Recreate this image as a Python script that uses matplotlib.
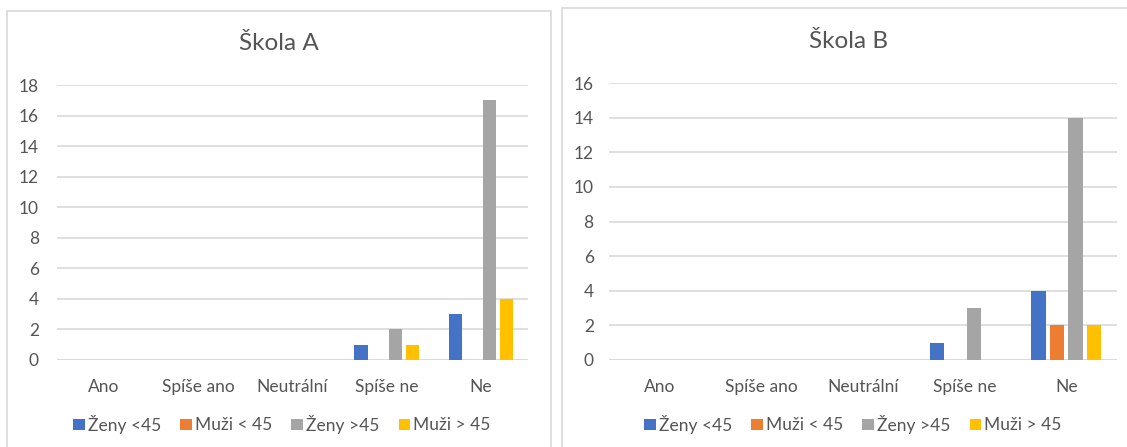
import matplotlib
matplotlib.use("Agg")
import matplotlib.pyplot as plt
from matplotlib.patches import Rectangle, Patch
import numpy as np

plt.rcParams['font.family'] = ['Lato', 'DejaVu Sans']

categories = ["Ano", "Spíše ano", "Neutrální", "Spíše ne", "Ne"]
series_names = ["Ženy <45", "Muži < 45", "Ženy >45", "Muži > 45"]
colors = ["#4472C4", "#ED7D31", "#A5A5A5", "#FFC000"]

# Škola A
a_zeny_pod45 = [0, 0, 0, 1, 3]
a_muzi_pod45 = [0, 0, 0, 0, 0]
a_zeny_nad45 = [0, 0, 0, 2, 17]
a_muzi_nad45 = [0, 0, 0, 1, 4]

# Škola B
b_zeny_pod45 = [0, 0, 0, 1, 4]
b_muzi_pod45 = [0, 0, 0, 0, 2]
b_zeny_nad45 = [0, 0, 0, 3, 14]
b_muzi_nad45 = [0, 0, 0, 0, 2]

W, H = 1127, 447
TEXT = "#555555"
GRID = "#D9D9D9"

fig = plt.figure(figsize=(W / 100, H / 100), dpi=100)
fig.patch.set_facecolor("white")


def fx(px):
    return px / W


def fy(py):
    return 1 - py / H


def draw_chart(rect, title, title_xy, legend_xy, series, ymax, tickpad):
    ax = fig.add_axes(rect, zorder=2)
    x = np.arange(len(categories))
    slot, bw = 0.182, 0.14
    for j, (vals, c) in enumerate(zip(series, colors)):
        ax.bar(x + (j - 1.5) * slot, vals, width=bw, color=c, zorder=3)
    ax.set_xlim(-0.5, len(categories) - 0.5)
    ax.set_ylim(0, ymax)
    ax.set_yticks(np.arange(0, ymax + 1, 2))
    ax.yaxis.grid(True, color=GRID, linewidth=1.2, zorder=0)
    ax.set_axisbelow(True)
    for s in ax.spines.values():
        s.set_visible(False)
    ax.axhline(0, color=GRID, linewidth=1.2, zorder=1)
    ax.set_xticks(x)
    ax.set_xticklabels(categories)
    ax.tick_params(axis="both", length=0, labelsize=12.5, labelcolor=TEXT)
    ax.tick_params(axis="y", pad=tickpad)
    ax.tick_params(axis="x", pad=13.5)
    ax.set_facecolor("none")
    fig.text(title_xy[0], title_xy[1], title, ha="center", va="center",
             fontsize=17.5, color=TEXT, zorder=3)
    handles = [Patch(facecolor=c, edgecolor="none") for c in colors]
    leg = fig.legend(handles, series_names, loc="center", bbox_to_anchor=legend_xy,
                     ncol=4, frameon=False, fontsize=12.5, labelcolor=TEXT,
                     handlelength=0.65, handleheight=0.65, handletextpad=0.2,
                     columnspacing=1.1, borderpad=0)
    leg.set_zorder(3)
    return ax


# chart frames
fig.patches.append(Rectangle((fx(7), -0.1), fx(551) - fx(7), fy(11) + 0.1,
                             transform=fig.transFigure, facecolor="white",
                             edgecolor=GRID, linewidth=1.2, zorder=-5))
fig.patches.append(Rectangle((fx(562), -0.1), fx(1140) - fx(562), fy(8) + 0.1,
                             transform=fig.transFigure, facecolor="white",
                             edgecolor=GRID, linewidth=1.2, zorder=-5))

draw_chart([fx(57), fy(360), fx(528) - fx(57), fy(85) - fy(360)],
           "Škola A", (fx(279), fy(43)), (fx(282), fy(424)),
           [a_zeny_pod45, a_muzi_pod45, a_zeny_nad45, a_muzi_nad45], 18, 13)

draw_chart([fx(609), fy(360), fx(1117) - fx(609), fy(83) - fy(360)],
           "Škola B", (fx(849), fy(42)), (fx(853), fy(424)),
           [b_zeny_pod45, b_muzi_pod45, b_zeny_nad45, b_muzi_nad45], 16, 11)

fig.savefig("out.png", dpi=100, facecolor="white")
